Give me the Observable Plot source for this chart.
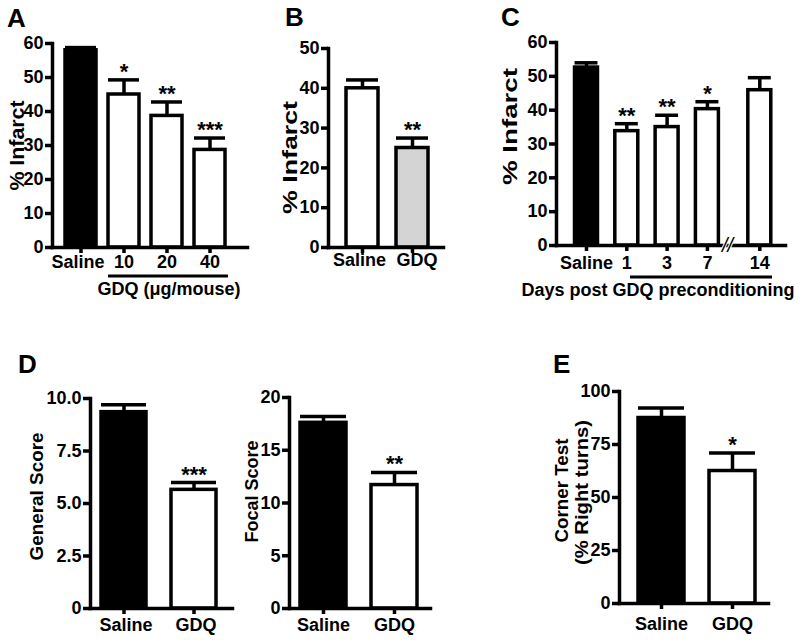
<!DOCTYPE html>
<html><head><meta charset="utf-8">
<script src="https://cdn.jsdelivr.net/npm/d3@7"></script>
<script src="https://cdn.jsdelivr.net/npm/@observablehq/plot@0.6"></script>
<style>
body{margin:0;background:#fff;}
#fig{position:relative;width:800px;height:641px;overflow:hidden;background:#fff;}
#fig svg{position:absolute;margin:0;overflow:visible;}
</style></head><body><div id="fig"></div><script>
// ---------------- data ----------------
const aGroups = ["Saline", "10", "20", "40"];
const aInfarct = [58.0, 45.0, 38.7, 28.7];
const aSem = [0.8, 4.3, 4.1, 3.5];
const aSig = ["", "*", "**", "***"];
const aTicks = [0, 10, 20, 30, 40, 50, 60];

const bGroups = ["Saline", "GDQ"];
const bInfarct = [40.0, 25.0];
const bSem = [2.1, 2.5];
const bSig = ["", "**"];
const bTicks = [0, 10, 20, 30, 40, 50];

const cDays = ["Saline", "1", "3", "7", "14"];
const cInfarct = [52.6, 33.8, 35.0, 40.3, 45.9];
const cSem = [1.4, 2.2, 3.5, 2.2, 3.7];
const cSig = ["", "**", "**", "*", ""];
const cTicks = [0, 10, 20, 30, 40, 50, 60];

const dGroups = ["Saline", "GDQ"];
const dGeneral = [9.35, 5.65];
const dGeneralSem = [0.35, 0.35];
const dGeneralSig = ["", "***"];
const dGeneralTicks = [0, 2.5, 5, 7.5, 10];

const dFocal = [17.6, 11.7];
const dFocalSem = [0.6, 1.2];
const dFocalSig = ["", "**"];
const dFocalTicks = [0, 5, 10, 15, 20];

const eGroups = ["Saline", "GDQ"];
const eCorner = [87.5, 62.5];
const eSem = [4.7, 8.5];
const eSig = ["", "*"];
const eTicks = [0, 25, 50, 75, 100];

// ---------------- layout ----------------
const FONT = '"Liberation Sans", Arial, Helvetica, sans-serif';
const SW = 3.5;
const fig = document.getElementById("fig");
const rows = (g, v, e, s) => g.map((d, i) => ({g: d, v: v[i], e: e[i], s: s[i]}));
// slot positions for panel C (axis break before day 14)
const cSlotPos = [0, 1, 2, 3, 4.3];

function panel(cfg) {
  const [L, T, W, H] = cfg.box;
  const f = cfg.frame;
  const mL = f.x0 - L, mR = L + W - f.x1, mT = f.y0 - T, mB = T + H - f.y1;
  const midY = (f.y0 + f.y1) / 2;
  const marks = [];
  const data = cfg.data;
  if (cfg.linear) {
    const pos = cfg.pos, hw = cfg.halfWidth;
    marks.push(
      Plot.rectY(data, {x1: (d, i) => pos[i] - hw, x2: (d, i) => pos[i] + hw, y1: 0, y2: "v", fill: cfg.fill, stroke: "black", strokeWidth: SW}),
      Plot.ruleX(data, {x: (d, i) => pos[i], y1: "v", y2: d => d.v + d.e, strokeWidth: SW}),
      Plot.ruleY(data, {x1: (d, i) => pos[i] - hw, x2: (d, i) => pos[i] + hw, y: d => d.v + d.e, strokeWidth: SW}),
      Plot.text(data, {x: (d, i) => pos[i], y: d => d.v + d.e, text: "s", lineAnchor: "bottom", dy: -1, fontSize: 22}),
      Plot.axisX({ticks: cfg.pos, tickFormat: (d) => cfg.xLabels[cfg.pos.indexOf(d)], tickSize: 6, tickPadding: cfg.tickPadX, strokeWidth: SW, label: null})
    );
  } else {
    marks.push(
      Plot.barY(data, {x: "g", y: "v", fill: cfg.fill, stroke: "black", strokeWidth: SW}),
      Plot.ruleX(data, {x: "g", y1: "v", y2: d => d.v + d.e, strokeWidth: SW}),
      Plot.tickY(data, {x: "g", y: d => d.v + d.e, strokeWidth: SW}),
      Plot.text(data, {x: "g", y: d => d.v + d.e, text: "s", lineAnchor: "bottom", dy: -1, fontSize: 22}),
      Plot.axisX({tickSize: 6, tickFormat: () => "", strokeWidth: SW, label: null})
    );
    const shifts = cfg.labelDx || {};
    for (const d of data) {
      marks.push(Plot.text([d], {x: "g", text: "g", frameAnchor: "bottom", lineAnchor: "top",
        dy: 6 + cfg.tickPadX, dx: shifts[d.g] || 0, fontVariant: "tabular-nums"}));
    }
  }
  marks.push(
    Plot.axisY({ticks: cfg.yTicks, tickFormat: cfg.yFormat || (d => String(d)), tickSize: 7, tickPadding: 2, strokeWidth: SW, label: null}),
    Plot.frame({anchor: "left", strokeWidth: SW, strokeLinecap: "square"}),
    Plot.frame({anchor: "bottom", strokeWidth: SW, strokeLinecap: "square"})
  );
  for (const lab of cfg.ylabels) {
    marks.push(Plot.text([lab.text], {
      frameAnchor: "left", rotate: -90, textAnchor: "middle", lineAnchor: "middle",
      dx: lab.cx - f.x0, dy: lab.cy - midY, fontSize: lab.size
    }));
  }
  if (cfg.extra) marks.push(...cfg.extra);
  const x = cfg.linear
    ? {type: "linear", domain: cfg.xDomain, range: [cfg.xRange[0] - L, cfg.xRange[1] - L]}
    : {type: "band", domain: data.map(d => d.g), range: [cfg.xRange[0] - L, cfg.xRange[1] - L], padding: cfg.padding};
  const chart = Plot.plot({
    width: W, height: H,
    marginLeft: mL, marginRight: mR, marginTop: mT, marginBottom: mB,
    x, y: {domain: cfg.yDomain},
    style: {fontFamily: FONT, fontWeight: "bold", fontSize: "18px", background: "transparent", color: "black"},
    marks
  });
  for (const lab of cfg.ylabels) {
    chart.querySelectorAll("text").forEach(t => {
      if (t.textContent === lab.text && lab.len) {
        t.setAttribute("textLength", lab.len);
        t.setAttribute("lengthAdjust", "spacingAndGlyphs");
      }
    });
  }
  chart.style.left = L + "px";
  chart.style.top = T + "px";
  fig.appendChild(chart);
}

// Panel A
panel({
  box: [0, 0, 260, 300], frame: {x0: 52, x1: 247, y0: 43, y1: 247},
  data: rows(aGroups, aInfarct, aSem, aSig), xRange: [52, 238], padding: 0.284,
  yDomain: [0, 60], yTicks: aTicks, tickPadX: 2, labelDx: {Saline: -3},
  fill: d => d.g === "Saline" ? "black" : "white",
  ylabels: [{text: "% Infarct", cx: 17, cy: 145, len: 90, size: 21}]
});
// Panel B
panel({
  box: [260, 0, 200, 300], frame: {x0: 328, x1: 443, y0: 48, y1: 247},
  data: rows(bGroups, bInfarct, bSem, bSig), xRange: [326, 446.5], padding: 0.37,
  yDomain: [0, 50], yTicks: bTicks, tickPadX: 0, labelDx: {Saline: -3, GDQ: 4.5},
  fill: d => d.g === "GDQ" ? "#d4d4d4" : "white",
  ylabels: [{text: "% Infarct", cx: 290, cy: 157, len: 113, size: 20}]
});
// Panel C
panel({
  box: [480, 0, 320, 300], frame: {x0: 556, x1: 785, y0: 42, y1: 245},
  data: rows(cDays, cInfarct, cSem, cSig), linear: true, pos: cSlotPos, halfWidth: 0.285,
  xLabels: cDays, xDomain: [0, 4.3], xRange: [586, 759.3],
  yDomain: [0, 60], yTicks: cTicks, tickPadX: 5,
  fill: d => d.g === "Saline" ? "black" : "white",
  ylabels: [{text: "% Infarct", cx: 510, cy: 126, len: 117, size: 20}],
  extra: [Plot.text(["//"], {x: () => (cSlotPos[3] + cSlotPos[4]) / 2 - 0.15, y: () => 0, text: d => d, fontSize: 20, fontWeight: "normal", fontStyle: "italic", stroke: "white", strokeWidth: 2, fill: "black"})]
});
// Panel D left
panel({
  box: [0, 320, 250, 321], frame: {x0: 90, x1: 232, y0: 398, y1: 608},
  data: rows(dGroups, dGeneral, dGeneralSem, dGeneralSig), xRange: [76.5, 241.5], padding: 0.357,
  yDomain: [0, 10], yTicks: dGeneralTicks, yFormat: d => d === 0 ? "0" : d.toFixed(1), tickPadX: 4,
  labelDx: {Saline: 2, GDQ: 2},
  fill: d => d.g === "Saline" ? "black" : "white",
  ylabels: [{text: "General Score", cx: 37, cy: 496, len: 128, size: 18}]
});
// Panel D right
panel({
  box: [230, 320, 220, 321], frame: {x0: 289, x1: 430, y0: 397, y1: 608},
  data: rows(dGroups, dFocal, dFocalSem, dFocalSig), xRange: [275.6, 442.5], padding: 0.35,
  yDomain: [0, 20], yTicks: dFocalTicks, tickPadX: 4,
  fill: d => d.g === "Saline" ? "black" : "white",
  ylabels: [{text: "Focal Score", cx: 252, cy: 491, len: 102, size: 18}]
});
// Panel E
panel({
  box: [520, 320, 280, 321], frame: {x0: 619, x1: 768, y0: 391, y1: 603},
  data: rows(eGroups, eCorner, eSem, eSig), xRange: [613.6, 780.5], padding: 0.35,
  yDomain: [0, 100], yTicks: eTicks, tickPadX: 8,
  fill: d => d.g === "Saline" ? "black" : "white",
  ylabels: [
    {text: "Corner Test", cx: 562, cy: 490, len: 104, size: 18},
    {text: "(% Right turns)", cx: 582, cy: 492, len: 145, size: 18}
  ]
});

// ---------------- annotations (panel letters, group labels) ----------------
const ns = "http://www.w3.org/2000/svg";
const ov = document.createElementNS(ns, "svg");
ov.setAttribute("width", 800); ov.setAttribute("height", 641);
ov.style.left = "0px"; ov.style.top = "0px"; ov.style.pointerEvents = "none";
ov.setAttribute("font-family", FONT); ov.setAttribute("font-weight", "bold");
const letters = [["A", 7, 27], ["B", 285, 26], ["C", 501, 26], ["D", 18, 373], ["E", 553, 373]];
for (const [t, x, y] of letters) {
  const e = document.createElementNS(ns, "text");
  e.setAttribute("x", x); e.setAttribute("y", y); e.setAttribute("font-size", 26); e.textContent = t;
  ov.appendChild(e);
}
const groupLabels = [["GDQ (\u03bcg/mouse)", 169, 295], ["Days post GDQ preconditioning", 658, 296]];
for (const [t, x, y] of groupLabels) {
  const e = document.createElementNS(ns, "text");
  e.setAttribute("x", x); e.setAttribute("y", y); e.setAttribute("font-size", 18);
  e.setAttribute("text-anchor", "middle"); e.textContent = t;
  ov.appendChild(e);
}
const underlines = [[108, 228, 276], [630, 772, 277]];
for (const [x1, x2, y] of underlines) {
  const e = document.createElementNS(ns, "line");
  e.setAttribute("x1", x1); e.setAttribute("x2", x2); e.setAttribute("y1", y); e.setAttribute("y2", y);
  e.setAttribute("stroke", "black"); e.setAttribute("stroke-width", 3);
  ov.appendChild(e);
}
fig.appendChild(ov);
</script></body></html>
